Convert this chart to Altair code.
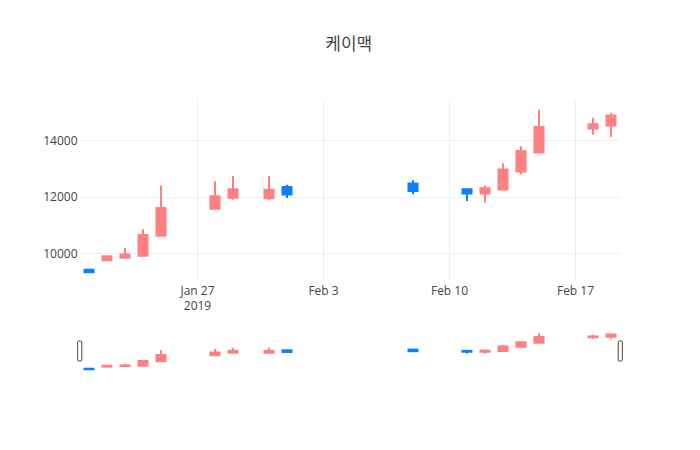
import altair as alt
import pandas as pd

dates = ["2019-01-21", "2019-01-22", "2019-01-23", "2019-01-24", "2019-01-25",
         "2019-01-28", "2019-01-29", "2019-01-31", "2019-02-01", "2019-02-08",
         "2019-02-11", "2019-02-12", "2019-02-13", "2019-02-14", "2019-02-15",
         "2019-02-18", "2019-02-19"]
open_ = [9420, 9750, 9840, 9910, 10620, 11580, 11970, 11950, 12350, 12470,
         12270, 12120, 12260, 12900, 13570, 14420, 14520]
high = [9430, 9920, 10200, 10850, 12400, 12550, 12740, 12740, 12430, 12590,
        12270, 12400, 13190, 13790, 15080, 14800, 14980]
low = [9320, 9730, 9830, 9900, 10610, 11570, 11900, 11900, 11960, 12090,
       11850, 11800, 12230, 12800, 13560, 14200, 14120]
close = [9330, 9900, 9960, 10650, 11600, 12020, 12270, 12250, 12080, 12210,
         12120, 12300, 12970, 13620, 14470, 14570, 14880]
tick_dates = ["2019-01-27", "2019-02-03", "2019-02-10", "2019-02-17"]
x_range = ["2019-01-20T12:00:00", "2019-02-19T12:00:00"]
y_ticks = [10000, 12000, 14000]
title_text = "케이맥"

UP = "#ff8080"
DOWN = "#0a7fff"
DAY = 86400000


def to_ms(values):
    return [int((pd.Timestamp(v) - pd.Timestamp("1970-01-01")) // pd.Timedelta(milliseconds=1)) for v in values]


t = to_ms(dates)
df = pd.DataFrame({"t": t, "open": open_, "high": high, "low": low, "close": close})
df["t0"] = df["t"] - 0.25 * DAY
df["t1"] = df["t"] + 0.25 * DAY
df["dir"] = ["up" if c >= o else "down" for o, c in zip(open_, close)]

xdom = to_ms(x_range)
ydom = [9055, 15427]

color = alt.Color("dir:N", scale=alt.Scale(domain=["up", "down"], range=[UP, DOWN]), legend=None)

xscale = alt.Scale(type="utc", domain=xdom)
yscale = alt.Scale(domain=ydom, nice=False, zero=False)

xaxis = alt.Axis(
    values=to_ms(tick_dates), grid=True, gridColor="#eeeeee", domain=False, ticks=False,
    labelPadding=5, labelFont="Open Sans", labelFontSize=12, labelColor="#444444",
    labelLineHeight=15, labelBaseline="top",
    labelExpr="utcmonth(datum.value)==0 ? [utcFormat(datum.value,'%b %-d'), utcFormat(datum.value,'%Y')] : utcFormat(datum.value,'%b %-d')",
    title=None,
)
yaxis = alt.Axis(
    values=y_ticks, format="d", grid=True, gridColor="#eeeeee", domain=False, ticks=False,
    labelPadding=3, labelFont="Open Sans", labelFontSize=12, labelColor="#444444", title=None,
)

base = alt.Chart(df)
wick = base.mark_rule(strokeWidth=2).encode(
    x=alt.X("t:T", scale=xscale, axis=xaxis),
    y=alt.Y("low:Q", scale=yscale, axis=yaxis),
    y2="high:Q",
    color=color,
)
body = base.mark_rect(strokeWidth=2).encode(
    x=alt.X("t0:T", scale=xscale),
    x2="t1:T",
    y=alt.Y("open:Q", scale=yscale),
    y2="close:Q",
    color=color,
    stroke=color,
)
main = alt.layer(wick, body).properties(width=540, height=180)

s_wick = base.mark_rule(strokeWidth=2).encode(
    x=alt.X("t:T", scale=xscale, axis=None),
    y=alt.Y("low:Q", scale=yscale, axis=None),
    y2="high:Q",
    color=color,
)
s_body = base.mark_rect(strokeWidth=2).encode(
    x=alt.X("t0:T", scale=xscale, axis=None),
    x2="t1:T",
    y=alt.Y("open:Q", scale=yscale, axis=None),
    y2="close:Q",
    color=color,
    stroke=color,
)
hdf = pd.DataFrame({"h0": [xdom[0] - 0.13 * DAY, xdom[1] - 0.1 * DAY],
                    "h1": [xdom[0] + 0.1 * DAY, xdom[1] + 0.13 * DAY]})
handles = alt.Chart(hdf).mark_rect(fill="white", stroke="#444444", strokeWidth=1, cornerRadius=1).encode(
    x=alt.X("h0:Q", scale=alt.Scale(domain=xdom, nice=False, zero=False), axis=None),
    x2="h1:Q",
    y=alt.value(10),
    y2=alt.value(30),
)
slider = alt.layer(s_wick, s_body, handles).resolve_scale(x="independent").properties(width=540, height=40)

chart = alt.vconcat(main, slider, spacing=51, bounds="flush").properties(
    title=alt.TitleParams(title_text, font="Noto Sans CJK KR", fontSize=17, color="#444444",
                          fontWeight="normal", anchor="middle", offset=46, dx=16),
    padding={"left": 42, "top": 36, "right": 5, "bottom": 5},
    background="white",
).configure_view(stroke=None)

chart.save("out.html", embed_options={"renderer": "svg", "actions": False})
